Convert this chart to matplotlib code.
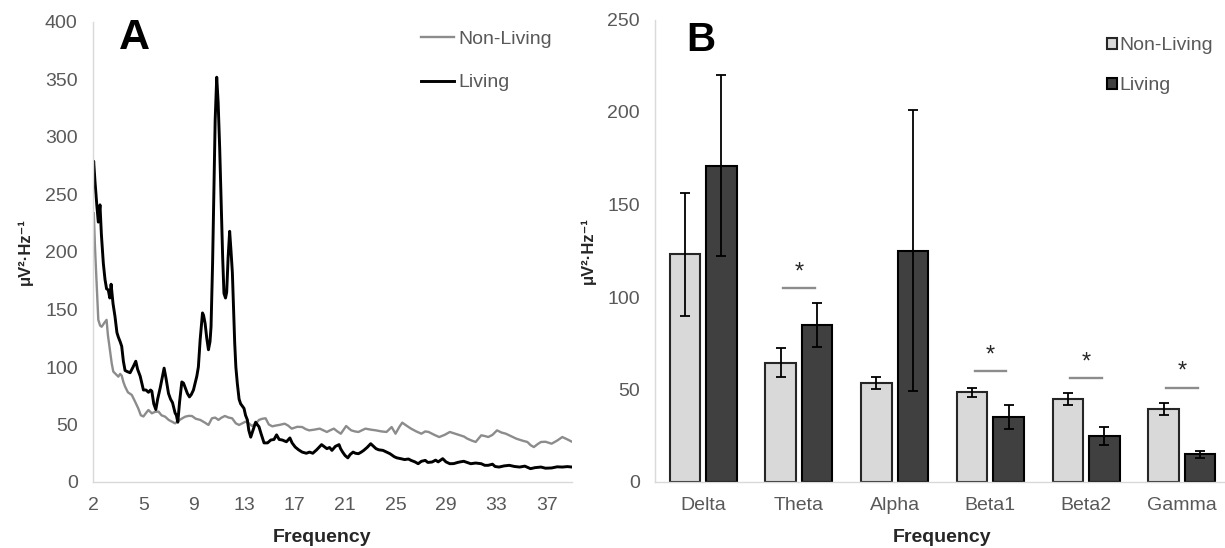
import numpy as np
import matplotlib
matplotlib.use("Agg")
import matplotlib.pyplot as plt

plt.rcParams['font.family'] = ['Liberation Sans', 'DejaVu Sans']

# ---------------- Panel A data (frequency in Hz, power in uV^2/Hz) ----------------
freq_living = [2.0, 2.05, 2.15, 2.3, 2.41, 2.54, 2.65, 2.8, 2.93, 3.05, 3.18, 3.3, 3.4, 3.55, 3.7, 3.85,
               3.96, 4.1, 4.22, 4.35, 4.48, 4.65, 4.87, 5.1, 5.31, 5.45, 5.65, 5.9, 6.1, 6.29, 6.45, 6.55,
               6.7, 6.86, 7.0, 7.2, 7.5, 7.65, 7.84, 8.0, 8.15, 8.35, 8.45, 8.56, 8.7, 8.87, 9.0, 9.13,
               9.3, 9.46, 9.6, 9.77, 9.9, 10.03, 10.15, 10.29, 10.47, 10.55, 10.67, 10.8, 10.93, 11.05,
               11.13, 11.25, 11.35, 11.45, 11.57, 11.68, 11.8, 11.93, 12.03, 12.13, 12.25, 12.34, 12.45,
               12.57, 12.68, 12.78, 12.9, 12.96, 13.05, 13.16, 13.3, 13.42, 13.55, 13.68, 13.8, 13.94,
               14.05, 14.2, 14.4, 14.58, 14.7, 14.84, 15.0, 15.23, 15.5, 15.75, 16.0, 16.2, 16.4, 16.64,
               16.96, 17.23, 17.4, 17.64, 17.9, 18.18, 18.5, 18.75, 19.0, 19.3, 19.68, 19.85, 20.09, 20.3,
               20.48, 20.75, 21.03, 21.15, 21.31, 21.5, 21.71, 21.9, 22.12, 22.3, 22.53, 22.75, 22.94,
               23.2, 23.48, 23.7, 23.89, 24.1, 24.43, 24.7, 24.97, 25.3, 25.5, 25.8, 26.1, 26.4, 26.6,
               26.9, 27.15, 27.4, 27.7, 27.9, 28.23, 28.5, 28.7, 29.05, 29.3, 29.6, 29.9, 30.2, 30.4,
               30.68, 30.95, 31.22, 31.6, 32.03, 32.3, 32.57, 32.9, 33.1, 33.4, 33.8, 34.2, 34.6, 35.0,
               35.4, 35.84, 36.2, 36.65, 37.0, 37.47, 37.9, 38.3, 38.7, 39.05]
psd_living = [262, 279, 262, 240, 226, 241, 215, 190, 176, 168, 167, 160, 172, 155, 144, 130,
              126, 122, 118, 105, 97, 96, 95, 100, 105, 98, 92, 80, 80, 78, 80, 79,
              68, 63, 72, 82, 99, 90, 77, 72, 69, 60, 58, 52, 70, 87, 86, 82,
              77, 74, 76, 80, 86, 92, 100, 124, 147, 145, 138, 125, 115, 122,
              135, 190, 250, 315, 352, 330, 290, 237, 195, 164, 160, 165, 195,
              218, 200, 182, 140, 121, 100, 86, 72, 68, 66, 64, 58, 54,
              45, 39, 46, 52, 50, 48, 42, 34, 34, 36.5, 37, 41, 37, 36.5,
              35, 38.3, 34, 30.4, 28, 26, 25, 26, 25, 28, 32.5, 31, 29, 30,
              27.5, 31, 32.5, 29, 26, 23, 21, 24, 26, 25, 24.6, 26, 27.5,
              30, 33.3, 31, 29, 28, 27.5, 26, 24.6, 22, 21, 20.3, 19.5, 20, 18.8,
              17.5, 15.9, 18, 18.8, 17, 17.4, 19, 17.5, 20.3, 17.5, 15.9, 16, 17, 17.5,
              18, 17, 15.9, 16.5, 15.9, 14.5, 14.5, 15.5, 13.5, 13, 14, 14.5, 13.5, 13,
              13.8, 11.6, 12.5, 13, 12, 12.2, 13.2, 13, 13.4, 13]

freq_nonliving = [2.0, 2.06, 2.15, 2.25, 2.35, 2.41, 2.55, 2.67, 2.85, 3.05, 3.15, 3.31, 3.45, 3.57,
                  3.75, 3.96, 4.1, 4.22, 4.35, 4.48, 4.7, 5.0, 5.25, 5.5, 5.7, 5.9, 6.1, 6.29, 6.55,
                  6.8, 7.07, 7.3, 7.58, 7.85, 8.1, 8.35, 8.6, 8.85, 9.13, 9.4, 9.65, 9.95, 10.29,
                  10.6, 10.93, 11.2, 11.45, 11.7, 11.95, 12.2, 12.5, 12.76, 13.05, 13.3, 13.55, 13.8,
                  14.05, 14.3, 14.6, 14.84, 15.1, 15.35, 15.6, 15.87, 16.1, 16.4, 16.83, 17.1, 17.37,
                  17.8, 18.18, 18.45, 18.72, 19.1, 19.54, 19.8, 20.09, 20.35, 20.63, 20.9, 21.17,
                  21.58, 21.8, 21.98, 22.25, 22.53, 22.8, 23.07, 23.5, 23.89, 24.3, 24.7, 25.1, 25.4,
                  25.7, 25.92, 26.25, 26.6, 27.0, 27.4, 27.7, 27.96, 28.4, 28.78, 29.2, 29.6, 30.0,
                  30.4, 30.7, 30.95, 31.3, 31.6, 32.03, 32.3, 32.57, 32.9, 33.25, 33.6, 33.93, 34.3,
                  34.74, 35.2, 35.6, 35.85, 36.1, 36.4, 36.65, 37.0, 37.47, 37.9, 38.3, 38.7, 39.05]
psd_nonliving = [215, 234, 205, 180, 155, 141, 136, 135, 138, 141, 128, 115, 103, 96,
                 94, 91.6, 94, 92.5, 87, 83, 78, 75.7, 70, 64, 58, 57, 60, 62.6, 59.7,
                 61, 61.2, 58, 56.8, 54, 52.5, 51, 53.2, 55, 56.8, 57.5, 57.4, 55, 54,
                 52, 49.6, 55.4, 56, 54, 56, 57.4, 56, 55.4, 51, 49.6, 51, 52.5,
                 51, 48.7, 51, 54, 55, 55.4, 50, 48.4, 49, 49.6, 50.7, 49, 46.4,
                 48, 47.8, 46, 44.9, 45.5, 46.4, 45, 43.5, 45, 46.4, 44, 42,
                 48.7, 46.5, 44.9, 44, 43.5, 45, 46.4, 45.5, 44.9, 44, 43.5, 47.8, 42,
                 48, 51.6, 49, 46.4, 44, 42, 44, 43.5, 41, 39.1, 41, 43.5, 42,
                 40.6, 39.5, 37.7, 36, 34.8, 40.6, 40, 39.1, 41, 44.9, 43, 42, 40,
                 37.7, 36, 34.8, 32, 30.4, 33, 34.8, 35, 33.3, 36, 39.1, 37, 35]

freq_tick_labels = ["2", "5", "9", "13", "17", "21", "25", "29", "33", "37"]
freq_tick_step = 3.9

# ---------------- Panel B data ----------------
bands = ["Delta", "Theta", "Alpha", "Beta1", "Beta2", "Gamma"]
nonliving_mean = [123, 64.5, 53.5, 48.5, 45, 39.5]
nonliving_err = [33, 7.7, 3.2, 2.5, 3.2, 3.4]
living_mean = [171, 85, 125, 35, 25, 15]
living_err = [49, 12, 76, 6.5, 5, 1.8]
sig_bands = [1, 3, 4, 5]
sig_levels = [105, 60, 56, 51]

# ---------------- figure ----------------
W, H = 1225, 548
fig = plt.figure(figsize=(W / 100, H / 100), dpi=100)


def px_rect(x0, y0, x1, y1):
    return [x0 / W, 1 - y1 / H, (x1 - x0) / W, (y1 - y0) / H]


tick_color = '#595959'
spine_color = '#d9d9d9'
fs = 14

axA = fig.add_axes(px_rect(93, 22, 572, 482))
axB = fig.add_axes(px_rect(655.4, 19.5, 1229.6, 482))

for ax in (axA, axB):
    for s in ('top', 'right'):
        ax.spines[s].set_visible(False)
    for s in ('left', 'bottom'):
        ax.spines[s].set_color(spine_color)
        ax.spines[s].set_linewidth(1.0)
    ax.tick_params(axis='both', length=0, labelsize=fs, labelcolor=tick_color)
    ax.tick_params(axis='y', pad=11)
    ax.tick_params(axis='x', pad=10.5)

# Panel A
axA.plot(freq_nonliving, psd_nonliving, color='#8c8c8c', lw=1.7, label='Non-Living')
axA.plot(freq_living, psd_living, color='black', lw=2.1, label='Living')
axA.set_xlim(2, 39.05)
axA.set_ylim(0, 400)
axA.set_yticks(np.arange(0, 401, 50))
axA.set_xticks(2 + freq_tick_step * np.arange(len(freq_tick_labels)))
axA.set_xticklabels(freq_tick_labels)
axA.set_xlabel('Frequency', fontsize=14, fontweight='bold', color='#262626')
axA.xaxis.set_label_coords((322 - 93) / 479, -(529 - 482) / 460)
axA.set_ylabel('μV²·Hz⁻¹', fontsize=12, fontweight='bold', color='#262626')
axA.yaxis.set_label_coords((33 - 93) / 479, 0.5)
legA = axA.legend(loc='upper left', bbox_to_anchor=(421 / W, 1 - 30 / H),
                  bbox_transform=fig.transFigure, frameon=False, fontsize=fs,
                  handlelength=1.7, handletextpad=0.2, labelspacing=1.35,
                  borderpad=0, borderaxespad=0)
for t in legA.get_texts():
    t.set_color(tick_color)
fig.text(134 / W, 1 - 38 / H, 'A', fontsize=31, fontweight='bold', ha='center', va='center')

# Panel B
x = np.arange(len(bands))
bw = 0.32
off = 0.19
ekw = dict(ecolor='black', elinewidth=1.3, capsize=3.5, capthick=1.3)
b1 = axB.bar(x - off, nonliving_mean, bw, color='#d9d9d9', edgecolor='#262626', lw=1.5,
             yerr=nonliving_err, error_kw=ekw, label='Non-Living')
b2 = axB.bar(x + off, living_mean, bw, color='#404040', edgecolor='black', lw=1.5,
             yerr=living_err, error_kw=ekw, label='Living')
for i, h in zip(sig_bands, sig_levels):
    axB.plot([i - 0.165, i + 0.165], [h, h], color='#8c8c8c', lw=1.7)
    axB.text(i, h + 2.5, '*', ha='center', va='bottom', fontsize=17, color='#262626')

axB.set_xlim(-0.5, 5.5)
axB.set_ylim(0, 250)
axB.set_yticks(np.arange(0, 251, 50))
axB.set_xticks(x)
axB.set_xticklabels(bands)
axB.set_xlabel('Frequency', fontsize=14, fontweight='bold', color='#262626')
axB.xaxis.set_label_coords(0.5, -(529 - 482) / 462.5)
axB.set_ylabel('μV²·Hz⁻¹', fontsize=12, fontweight='bold', color='#262626')
axB.yaxis.set_label_coords((596 - 655.4) / 574.2, 0.5)
legB = axB.legend(handles=[b1, b2], loc='upper left', bbox_to_anchor=(1107 / W, 1 - 37 / H),
                  bbox_transform=fig.transFigure, frameon=False, fontsize=fs,
                  handlelength=0.5, handleheight=0.5, handletextpad=0.15, labelspacing=1.2,
                  borderpad=0, borderaxespad=0)
for t in legB.get_texts():
    t.set_color(tick_color)
fig.text(701 / W, 1 - 40 / H, 'B', fontsize=29, fontweight='bold', ha='center', va='center')

fig.savefig('out.png', dpi=100)
